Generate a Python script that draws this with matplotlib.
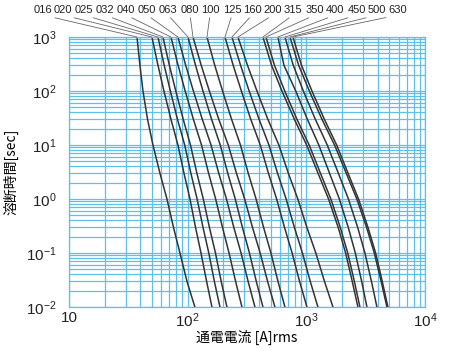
import matplotlib
matplotlib.use("Agg")
import matplotlib.pyplot as plt
from matplotlib.ticker import FixedLocator, NullFormatter, LogLocator

plt.rcParams['font.family'] = ['Liberation Sans', 'DejaVu Sans']

# melting time [s] at which each curve was read
times = [1000, 300, 100, 30, 10, 3, 1, 0.3, 0.1, 0.03, 0.01]

# current [A] of each fuse rating at those times
i_016 = [37.4, 39.6, 42.0, 45.9, 51.0, 58.4, 66.9, 75.9, 86.1, 98.6, 115]
i_020 = [50.0, 56.2, 63.1, 72.3, 82.8, 93.1, 104.6, 116.4, 129.5, 144.3, 160.2]
i_025 = [56.2, 63.4, 71.5, 82.0, 94.4, 106.4, 120.1, 134.6, 150.7, 167.8, 187.1]
i_032 = [61.9, 70.1, 79.4, 91.7, 105.6, 119.6, 135.4, 152.4, 171.5, 191.5, 214.3]
i_040 = [72.3, 83.0, 95.3, 111.7, 130.8, 150.1, 172.1, 196.4, 223.2, 253.3, 286.7]
i_050 = [82.8, 96.2, 111.7, 132.8, 157.4, 182.8, 212.3, 244.6, 281.8, 322.8, 369.0]
i_063 = [100.6, 116.4, 134.6, 159.0, 188.2, 217.7, 251.8, 289.0, 331.6, 378.5, 430.9]
i_080 = [110.9, 130.0, 152.4, 182.8, 219.8, 257.8, 302.1, 351.5, 408.1, 471.1, 543.8]
i_100 = [145.5, 169.1, 196.8, 234.4, 278.5, 324.0, 377.0, 435.9, 503.2, 576.4, 660.3]
i_125 = [206.2, 241.8, 283.4, 340.1, 408.9, 479.4, 562.0, 653.9, 759.1, 876.4, 1012]
i_160 = [236.2, 279.0, 329.7, 399.6, 484.1, 572.0, 675.8, 792.3, 927.2, 1078, 1252]
i_200 = [265.4, 319.0, 383.6, 473.9, 586.6, 705.3, 847.9, 1010, 1202, 1421, 1676]
i_315 = [430.9, 509.1, 622.9, 792.3, 1006, 1255, 1539, 1854, 2144, 2436, 2721]
i_350 = [456.7, 538.6, 657.7, 833.2, 1056, 1315, 1609, 1930, 2233, 2538, 2829]
i_400 = [576.4, 647.6, 814.1, 1020, 1274, 1569, 1898, 2254, 2587, 2924, 3241]
i_450 = [660.3, 775.6, 943.5, 1190, 1500, 1861, 2263, 2706, 3117, 3536, 3934]
i_500 = [727.4, 861.3, 1060, 1354, 1729, 2169, 2664, 3216, 3740, 4267, 4776]
i_630 = [771.1, 910.2, 1115, 1418, 1801, 2246, 2753, 3304, 3836, 4360, 4869]

ratings = ["016", "020", "025", "032", "040", "050", "063", "080", "100",
           "125", "160", "200", "315", "350", "400", "450", "500", "630"]
curves = [i_016, i_020, i_025, i_032, i_040, i_050, i_063, i_080, i_100,
          i_125, i_160, i_200, i_315, i_350, i_400, i_450, i_500, i_630]

# label centres along the top, in figure pixels
label_x = [43, 63, 84, 105, 126, 147, 168, 190, 210, 232, 252, 273,
           293, 315, 335, 357, 377, 398]

grid_col = '#5cc0ea'

fig = plt.figure(figsize=(4.5, 3.51), dpi=100)
ax = fig.add_axes([69 / 450, 1 - 307 / 351, 356 / 450, 270 / 351])
ax.set_xscale('log')
ax.set_yscale('log')
ax.set_xlim(10, 1e4)
ax.set_ylim(1e-2, 1e3)

ax.xaxis.set_minor_locator(LogLocator(base=10, subs=range(2, 10)))
ax.yaxis.set_minor_locator(LogLocator(base=10, subs=range(2, 10)))
ax.xaxis.set_minor_formatter(NullFormatter())
ax.yaxis.set_minor_formatter(NullFormatter())
ax.grid(True, which='both', color=grid_col, lw=0.9)
ax.set_axisbelow(True)
for s in ax.spines.values():
    s.set_color(grid_col)
    s.set_linewidth(0.9)
ax.tick_params(which='both', length=0, labelsize=11, colors='#222222')
ax.tick_params(axis='x', pad=3)
ax.tick_params(axis='y', pad=9)

ax.xaxis.set_major_locator(FixedLocator([10, 100, 1000, 10000]))
ax.set_xticklabels(['10', r'$\mathregular{10^2}$', r'$\mathregular{10^3}$',
                    r'$\mathregular{10^4}$'])
ax.yaxis.set_major_locator(FixedLocator([0.01, 0.1, 1, 10, 100, 1000]))
ax.set_yticklabels([r'$\mathregular{10^{-2}}$', r'$\mathregular{10^{-1}}$',
                    r'$\mathregular{10^0}$', r'$\mathregular{10^1}$',
                    r'$\mathregular{10^2}$', r'$\mathregular{10^3}$'])

for cur in curves:
    ax.plot(cur, times, color='#333333', lw=1.1)

for name, cur, lx in zip(ratings, curves, label_x):
    ax.annotate(name, xy=(cur[0], times[0]), xycoords='data',
                xytext=(lx, 341), textcoords='figure pixels',
                ha='center', va='center', fontsize=8, color='#222222',
                arrowprops=dict(arrowstyle='-', color='#666666', lw=0.6,
                                relpos=(0.5, 0), shrinkA=0, shrinkB=0))

ax.set_xlabel('通電電流 [A]rms', family=['Noto Sans CJK JP', 'DejaVu Sans'],
              fontsize=10, labelpad=0)
ax.set_ylabel('溶断時間[sec]', family=['Noto Sans CJK JP', 'DejaVu Sans'],
              fontsize=10, labelpad=5)

fig.savefig('out.png', dpi=100)
